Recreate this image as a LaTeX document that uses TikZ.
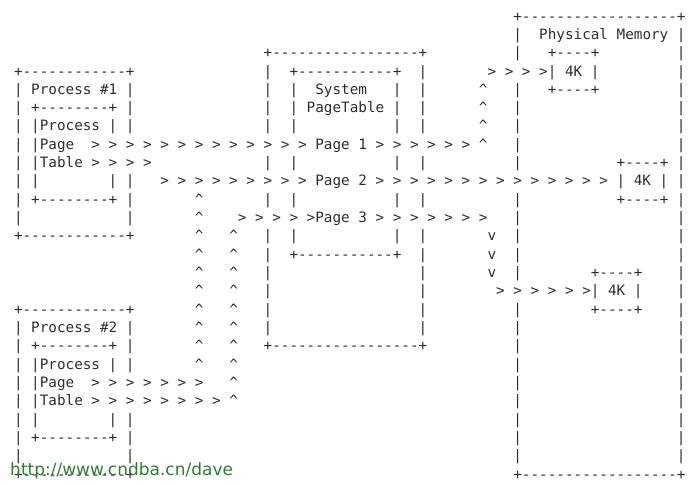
\documentclass[tikz,border=0pt]{standalone}
\usepackage{fontspec}
\setmonofont{DejaVu Sans Mono}
\setsansfont{DejaVu Sans}
\definecolor{ink}{RGB}{45,45,45}
\definecolor{mark}{RGB}{46,125,50}
\newcommand\caret{\textasciicircum}
\tikzset{
	asc/.style={font=\ttfamily\fontsize{14.3pt}{18pt}\selectfont, text=ink,
		inner sep=0pt, outer sep=0pt, anchor=base west},
	url/.style={font=\sffamily\fontsize{17pt}{20pt}\selectfont, text=mark,
		inner sep=0pt, anchor=base west}
}

\begin{document}
\begin{tikzpicture}[x=8.61pt, y=-18.33pt]
	\useasboundingbox (-1.626,-1.146) rectangle (78.862,25.259);

	% the two processes
	\foreach \t/\n in {3/1,16/2} {
		\node[asc] (p\n-top) at (0,\t) {+------------+};
		\node[asc] (p\n-name) at (0,\t+1) {| Process \#\n{} |};
		\node[asc] (p\n-in-top) at (0,\t+2) {| +--------+ |};
		\node[asc] (p\n-pt) at (0,\t+3) {| |Process | |};
		\node[asc] (p\n-page) at (0,\t+4) {| |Page};
		\node[asc] (p\n-table) at (0,\t+5) {| |Table};
		\node[asc] (p\n-l) at (0,\t+6) {| |};
		\node[asc] (p\n-r) at (11,\t+6) {| |};
		\node[asc] (p\n-in-bot) at (0,\t+7) {| +--------+ |};
		\node[asc] (p\n-sl) at (0,\t+8) {|};
		\node[asc] (p\n-sr) at (13,\t+8) {|};
		\node[asc] (p\n-bot) at (0,\t+9) {+------------+};
	}

	% system page table
	\node[asc] (spt-top) at (29,2) {+-----------------+};
	\node[asc] (spt-in-top) at (32,3) {+-----------+};
	\node[asc] (spt-name) at (35,4) {System};
	\node[asc] (spt-name2) at (34,5) {PageTable};
	\node[asc] (spt-in-bot) at (32,13) {+-----------+};
	\node[asc] (spt-bot) at (29,18) {+-----------------+};
	\foreach \r in {4,5,6,8,10,12} {
		\node[asc] (sil\r) at (32,\r) {|};
		\node[asc] (sir\r) at (44,\r) {|};
	}
	\foreach \r in {3,4,5,6,8,10,12,13,14,15,16,17} {
		\node[asc] (sl\r) at (29,\r) {|};
		\node[asc] (sr\r) at (47,\r) {|};
	}

	% physical memory
	\node[asc] (pm-top) at (58,0) {+------------------+};
	\node[asc] (pm-name) at (61,1) {Physical Memory};
	\node[asc] (pm-bot) at (58,25) {+------------------+};
	\foreach \r in {1,2,4,5,6,7,8,10,11,12,13,14,16,17,18,19,20,21,22,23,24}
		\node[asc] (pml\r) at (58,\r) {|};
	\foreach \r in {1,...,24}
		\node[asc] (pmr\r) at (77,\r) {|};
	\node[asc] (k1-top) at (62,2) {+----+};
	\node[asc] (k1-bot) at (62,4) {+----+};
	\node[asc] (k2-top) at (70,8) {+----+};
	\node[asc] (k2-bot) at (70,10) {+----+};
	\node[asc] (k3-top) at (67,14) {+----+};
	\node[asc] (k3-bot) at (67,16) {+----+};

	% page lookups
	\node[asc] (pg1) at (9,7) {> > > > > > > > > > > > > Page 1 > > > > > >};
	\node[asc] (p1-more) at (9,8) {> > > >};
	\node[asc] (pg2) at (17,9) {> > > > > > > > > Page 2 > > > > > > > > > > > > > > | 4K |};
	\node[asc] (pg3) at (26,11) {> > > > >Page 3 > > > > > > >};
	\node[asc] (k1) at (55,3) {> > > >| 4K |};
	\node[asc] (k3) at (56,15) {> > > > > >| 4K |};
	\node[asc] (p2-page-go) at (9,20) {> > > > > > >};
	\node[asc] (p2-table-go) at (9,21) {> > > > > > > >};
	\foreach \r in {4,...,7}
		\node[asc] (ua\r) at (54,\r) {\caret};
	\foreach \r in {10,...,19}
		\node[asc] (ub\r) at (21,\r) {\caret};
	\foreach \r in {12,...,21}
		\node[asc] (uc\r) at (25,\r) {\caret};
	\foreach \r in {12,...,14}
		\node[asc] (dn\r) at (55,\r) {v};

	\node[url] (url) at (-0.46,24.77) {http://www.cndba.cn/dave};
\end{tikzpicture}
\end{document}
